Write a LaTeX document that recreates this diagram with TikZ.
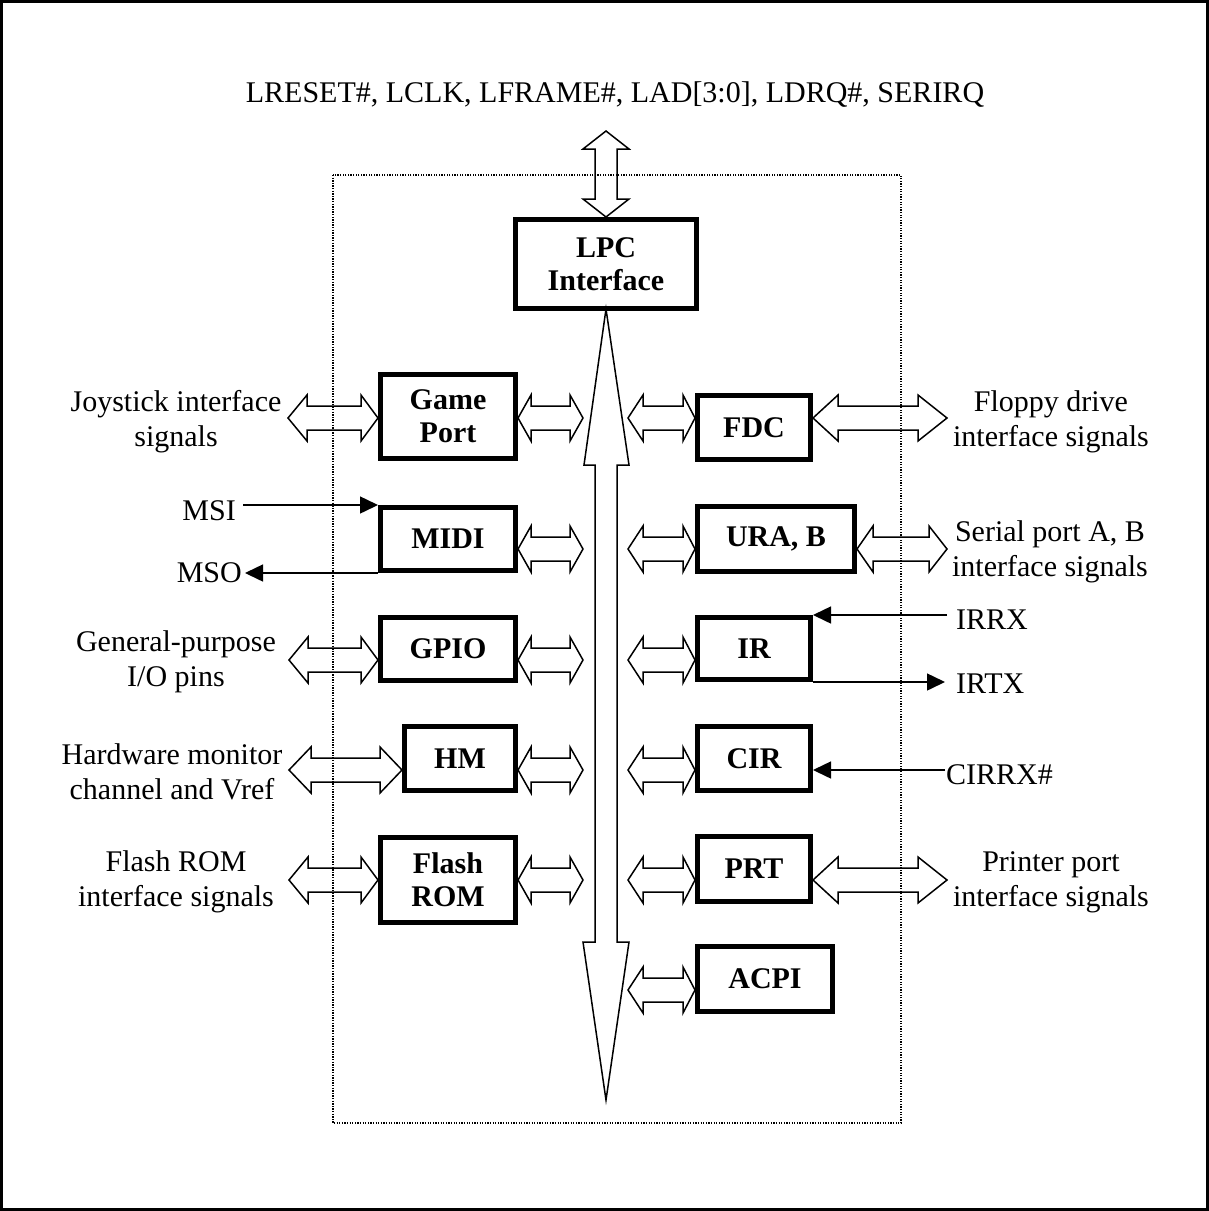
\documentclass[tikz,border=0pt]{standalone}
\usepackage{fontspec}
\setmainfont{Liberation Serif}
\usetikzlibrary{arrows.meta}
\tikzset{
 blk/.style={draw, line width=5pt, inner sep=0pt, align=center, font=\fontsize{30}{33}\selectfont\bfseries},
 lbl/.style={inner sep=0pt, align=center, font=\fontsize{30}{35}\selectfont},
 hollow/.style={draw, line width=1.5pt, line join=miter},
 sig/.style={line width=1.5pt, -{Triangle[length=18pt,width=17pt]}},
}
\newcommand\hdarr[5]{\draw[hollow] (#1,#3) -- ({#1+#4},{#3-23}) -- ({#1+#4},{#3-12}) -- ({#2-#5},{#3-12}) -- ({#2-#5},{#3-23}) -- (#2,#3) -- ({#2-#5},{#3+23}) -- ({#2-#5},{#3+12}) -- ({#1+#4},{#3+12}) -- ({#1+#4},{#3+23}) -- cycle;}
\begin{document}
\begin{tikzpicture}[x=1pt,y=-1pt]
\useasboundingbox (0,0) rectangle (1209,1211);
\draw[line width=3pt] (1.5,1.5) rectangle (1207.5,1209.5);
\draw[line width=1.5pt, dash pattern=on 1.3pt off 1.3pt] (333,175) rectangle (901,1123);
% top label
\node[lbl, anchor=base] (bus) at (615,102) {LRESET\#, LCLK, LFRAME\#, LAD[3:0], LDRQ\#, SERIRQ};
% LPC vertical arrow
\draw[hollow] (606,131) -- (629,149) -- (617,149) -- (617,199) -- (629,199) -- (606,217) -- (583,199) -- (595,199) -- (595,149) -- (583,149) -- cycle;
% internal bus
\draw[hollow] (606,309) -- (629,465) -- (617,465) -- (617,942) -- (629,942) -- (606,1100) -- (583,942) -- (595,942) -- (595,465) -- (584,465) -- cycle;
% blocks
\node[blk, minimum width=181pt, minimum height=89pt] (lpc) at (606,264) {LPC\\Interface};
\node[blk, minimum width=135pt, minimum height=84pt] (gp) at (448,416.5) {Game\\Port};
\node[blk, minimum width=135pt, minimum height=63pt] (midi) at (448,539) {MIDI};
\node[blk, minimum width=135pt, minimum height=63pt] (gpio) at (448,649) {GPIO};
\node[blk, minimum width=111pt, minimum height=64pt] (hm) at (460,758.5) {HM};
\node[blk, minimum width=135pt, minimum height=85pt] (flash) at (448,880) {Flash\\ROM};
\node[blk, minimum width=113pt, minimum height=64pt] (fdc) at (754,427.5) {FDC};
\node[blk, minimum width=157pt, minimum height=65pt] (ura) at (776,539) {URA, B};
\node[blk, minimum width=113pt, minimum height=62pt] (ir) at (754,648.5) {IR};
\node[blk, minimum width=113pt, minimum height=64pt] (cir) at (754,758.5) {CIR};
\node[blk, minimum width=113pt, minimum height=65pt] (prt) at (754,869) {PRT};
\node[blk, minimum width=135pt, minimum height=65pt] (acpi) at (765,979) {ACPI};
% left outer arrows
\hdarr{288}{378}{418}{19}{17}
\hdarr{289}{378}{660}{19}{17}
\hdarr{289}{402}{770}{22}{22}
\hdarr{289}{378}{880}{19}{17}
% left inner arrows
\hdarr{518}{583}{418}{13}{13}
\hdarr{518}{583}{549}{13}{13}
\hdarr{518}{583}{660}{13}{13}
\hdarr{518}{583}{770}{13}{13}
\hdarr{518}{583}{880}{13}{13}
% right inner arrows
\hdarr{628}{695}{418}{15}{12}
\hdarr{628}{695}{549}{15}{12}
\hdarr{628}{695}{660}{15}{12}
\hdarr{628}{695}{770}{15}{12}
\hdarr{628}{695}{880}{15}{12}
\hdarr{628}{695}{990}{15}{12}
% right outer arrows
\hdarr{813}{947}{418}{25}{29}
\hdarr{857}{947}{549}{16}{18}
\hdarr{813}{947}{880}{25}{29}
% labels
\node[lbl] (joy) at (176,421.5) {Joystick interface\\signals};
\node[lbl] (gpl) at (176,662) {General-purpose\\I/O pins};
\node[lbl] (hml) at (172,772) {Hardware monitor\\channel and Vref};
\node[lbl] (fll) at (176,882) {Flash ROM\\interface signals};
\node[lbl] (fdl) at (1051,421.5) {Floppy drive\\interface signals};
\node[lbl] (srl) at (1050,552) {Serial port A, B\\interface signals};
\node[lbl] (prl) at (1051,882) {Printer port\\interface signals};
\node[lbl, anchor=base east] (msi) at (236,520) {MSI};
\node[lbl, anchor=base east] (mso) at (242,582) {MSO};
\node[lbl, anchor=base west] (irrx) at (956,629) {IRRX};
\node[lbl, anchor=base west] (irtx) at (956,693) {IRTX};
\node[lbl, anchor=base west] (cirrx) at (946,784) {CIRRX\#};
% signal arrows
\coordinate (msiS) at (243,0);
\coordinate (msoE) at (245,0);
\coordinate (irrxS) at (947,0);
\coordinate (irtxE) at (945,0);
\coordinate (cirS) at (945,770);
\draw[sig] (msiS |- midi.north west) -- (midi.north west);
\draw[sig] (midi.south west) -- (msoE |- midi.south west);
\draw[sig] (irrxS |- ir.north east) -- (ir.north east);
\draw[sig] (ir.south east) -- (irtxE |- ir.south east);
\draw[sig] (cirS) -- (cirS -| cir.east);
\end{tikzpicture}
\end{document}
